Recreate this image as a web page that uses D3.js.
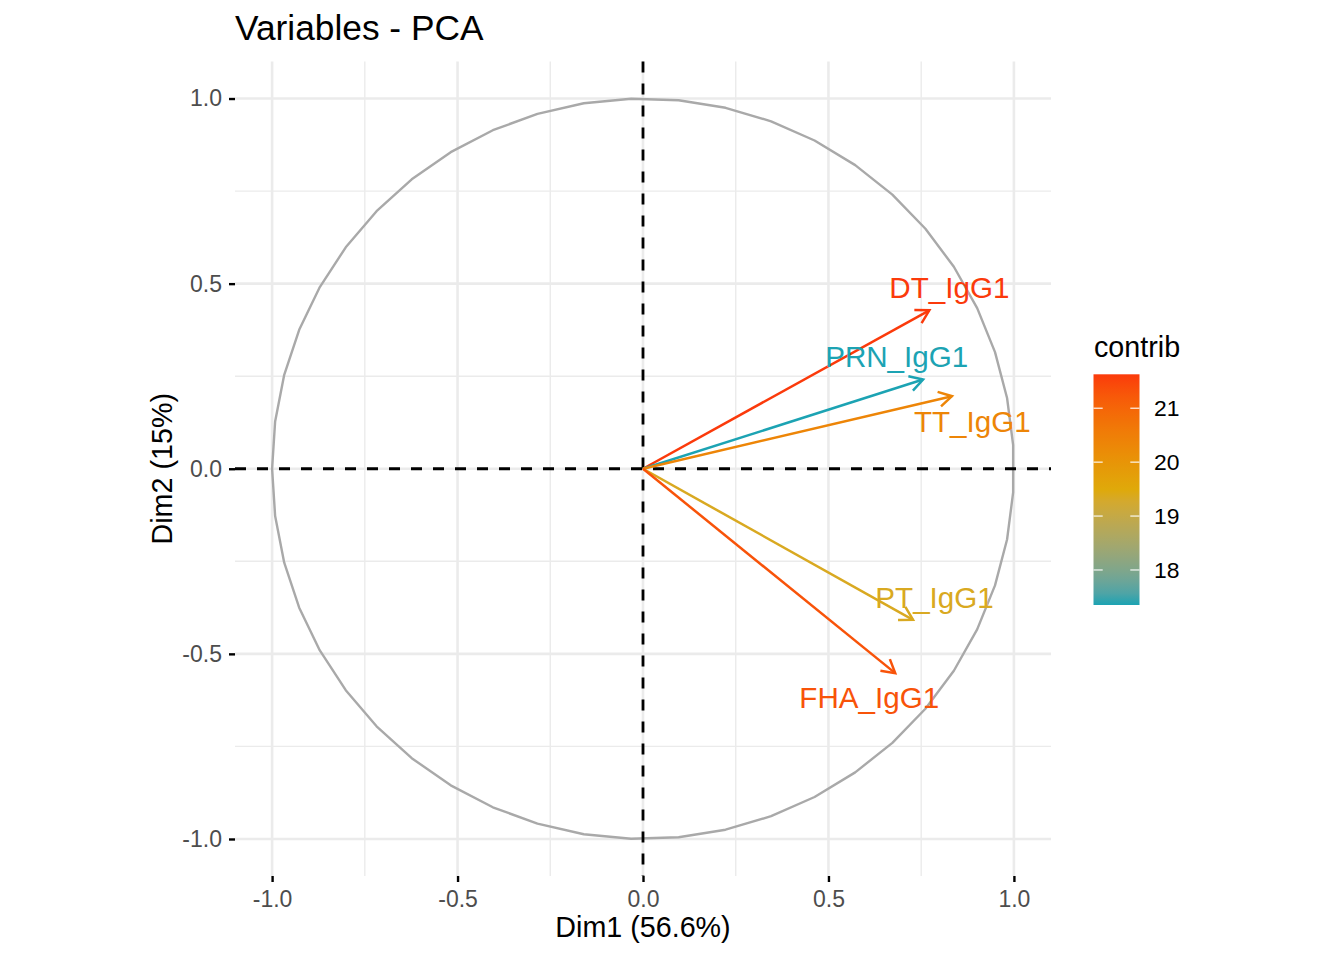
<!DOCTYPE html>
<html>
<head>
<meta charset="utf-8">
<script src="https://cdn.jsdelivr.net/npm/d3@7"></script>
<style>
  html, body { margin: 0; padding: 0; background: #fff; }
  svg { display: block; font-family: "Liberation Sans", Arial, Helvetica, sans-serif; }
</style>
</head>
<body>
<svg id="chart" width="1344" height="960"></svg>
<script>
// ---- data ----
const varNames = ["DT_IgG1", "PRN_IgG1", "TT_IgG1", "PT_IgG1", "FHA_IgG1"];
const dim1 = [0.772, 0.755, 0.833, 0.728, 0.680];
const dim2 = [0.428, 0.241, 0.196, -0.408, -0.552];
const contrib = [21.63, 17.35, 20.35, 19.37, 21.30];
// repelled label positions (data units)
const labelX = [0.826, 0.684, 0.888, 0.786, 0.610];
const labelY = [0.489, 0.303, 0.127, -0.348, -0.618];
const majorBreaks = [-1, -0.5, 0, 0.5, 1];
const minorBreaks = [-0.75, -0.25, 0.25, 0.75];
const tickLabels = ["-1.0", "-0.5", "0.0", "0.5", "1.0"];
const legendBreaks = [18, 19, 20, 21];
const gradientCols = ["#1CA3B3", "#DFA90A", "#FB3A0B"];

const titleText = "Variables - PCA";
const xTitle = "Dim1 (56.6%)";
const yTitle = "Dim2 (15%)";
const legendTitle = "contrib";

// ---- layout ----
const svg = d3.select("#chart");
const panel = { left: 235, right: 1051, top: 61.5, bottom: 876 };
const x = d3.scaleLinear().domain([-1.1, 1.1]).range([panel.left, panel.right]);
const y = d3.scaleLinear().domain([-1.1, 1.1]).range([panel.bottom, panel.top]);

const cMin = d3.min(contrib), cMax = d3.max(contrib);
const color = d3.scaleLinear()
  .domain([cMin, (cMin + cMax) / 2, cMax])
  .range(gradientCols)
  .interpolate(d3.interpolateLab);

// ---- grid ----
const grid = svg.append("g");
grid.selectAll(".vminor").data(minorBreaks).join("line")
  .attr("x1", d => x(d)).attr("x2", d => x(d))
  .attr("y1", panel.top).attr("y2", panel.bottom)
  .attr("stroke", "#EBEBEB").attr("stroke-width", 1.4);
grid.selectAll(".hminor").data(minorBreaks).join("line")
  .attr("y1", d => y(d)).attr("y2", d => y(d))
  .attr("x1", panel.left).attr("x2", panel.right)
  .attr("stroke", "#EBEBEB").attr("stroke-width", 1.4);
grid.selectAll(".vmajor").data(majorBreaks).join("line")
  .attr("x1", d => x(d)).attr("x2", d => x(d))
  .attr("y1", panel.top).attr("y2", panel.bottom)
  .attr("stroke", "#EBEBEB").attr("stroke-width", 2.6);
grid.selectAll(".hmajor").data(majorBreaks).join("line")
  .attr("y1", d => y(d)).attr("y2", d => y(d))
  .attr("x1", panel.left).attr("x2", panel.right)
  .attr("stroke", "#EBEBEB").attr("stroke-width", 2.6);

// ---- correlation circle (unit circle as a 50-vertex polygon) ----
const theta = d3.range(50).map(k => -Math.PI + k * 2 * Math.PI / 49);
const circleLine = d3.line().x(t => x(Math.cos(t))).y(t => y(Math.sin(t)));
svg.append("path").attr("d", circleLine(theta))
  .attr("fill", "none").attr("stroke", "#A9A9A9").attr("stroke-width", 2.4)
  .attr("stroke-linejoin", "round");

// ---- dashed reference lines ----
svg.append("line").attr("x1", panel.left).attr("x2", panel.right)
  .attr("y1", y(0)).attr("y2", y(0))
  .attr("stroke", "#000").attr("stroke-width", 2.8).attr("stroke-dasharray", "11,11");
svg.append("line").attr("y1", panel.top).attr("y2", panel.bottom)
  .attr("x1", x(0)).attr("x2", x(0))
  .attr("stroke", "#000").attr("stroke-width", 2.8).attr("stroke-dasharray", "11,11");

// ---- axes ----
const fmtIdx = d => tickLabels[majorBreaks.indexOf(d)];
const yAxis = svg.append("g").attr("transform", `translate(${panel.left},0)`)
  .call(d3.axisLeft(y).tickValues(majorBreaks).tickFormat(fmtIdx).tickSize(6).tickPadding(7));
const xAxis = svg.append("g").attr("transform", `translate(0,${panel.bottom})`)
  .call(d3.axisBottom(x).tickValues(majorBreaks).tickFormat(fmtIdx).tickSize(6).tickPadding(9));
[xAxis, yAxis].forEach(a => {
  a.select(".domain").remove();
  a.selectAll(".tick line").attr("stroke", "#000").attr("stroke-width", 2.4);
  a.selectAll(".tick text").attr("fill", "#4D4D4D").attr("font-size", 23)
    .attr("font-family", "Liberation Sans, Arial, sans-serif");
});

// ---- arrows ----
const idx = d3.range(varNames.length);
const arrows = svg.append("g");
const headLen = 15, headAng = Math.PI / 6;
idx.forEach(i => {
  const x0 = x(0), y0 = y(0), x1 = x(dim1[i]), y1 = y(dim2[i]);
  const c = color(contrib[i]);
  const a = Math.atan2(y1 - y0, x1 - x0);
  arrows.append("line").attr("x1", x0).attr("y1", y0).attr("x2", x1).attr("y2", y1)
    .attr("stroke", c).attr("stroke-width", 2.5);
  const p1 = [x1 - headLen * Math.cos(a - headAng), y1 - headLen * Math.sin(a - headAng)];
  const p2 = [x1 - headLen * Math.cos(a + headAng), y1 - headLen * Math.sin(a + headAng)];
  arrows.append("path")
    .attr("d", `M${p1[0]},${p1[1]}L${x1},${y1}L${p2[0]},${p2[1]}`)
    .attr("fill", "none").attr("stroke", c).attr("stroke-width", 2.5)
    .attr("stroke-linejoin", "miter");
});

// ---- labels ----
svg.append("g").selectAll("text").data(idx).join("text")
  .attr("x", i => x(labelX[i])).attr("y", i => y(labelY[i]))
  .attr("dy", "0.35em").attr("text-anchor", "middle")
  .attr("font-size", 29.6).attr("fill", i => color(contrib[i]))
  .text(i => varNames[i]);

// ---- titles ----
svg.append("text").attr("x", 235).attr("y", 40).attr("font-size", 35.3)
  .attr("fill", "#000").text(titleText);
svg.append("text").attr("x", (panel.left + panel.right) / 2).attr("y", 937)
  .attr("text-anchor", "middle").attr("font-size", 28.7).attr("fill", "#000").text(xTitle);
svg.append("text").attr("transform", `translate(172,${(panel.top + panel.bottom) / 2}) rotate(-90)`)
  .attr("text-anchor", "middle").attr("font-size", 28.7).attr("fill", "#000").text(yTitle);

// ---- colour legend ----
const leg = { x: 1093.5, w: 46, top: 374.3, bottom: 605 };
const ly = d3.scaleLinear().domain([cMin, cMax]).range([leg.bottom, leg.top]);
const defs = svg.append("defs");
const grad = defs.append("linearGradient").attr("id", "cgrad")
  .attr("x1", 0).attr("y1", 1).attr("x2", 0).attr("y2", 0);
d3.range(21).forEach(k => {
  const v = cMin + (cMax - cMin) * k / 20;
  grad.append("stop").attr("offset", (k / 20)).attr("stop-color", color(v));
});
svg.append("rect").attr("x", leg.x).attr("y", leg.top).attr("width", leg.w)
  .attr("height", leg.bottom - leg.top).attr("fill", "url(#cgrad)");
const lt = svg.append("g");
legendBreaks.forEach(b => {
  lt.append("line").attr("x1", leg.x).attr("x2", leg.x + leg.w / 5)
    .attr("y1", ly(b)).attr("y2", ly(b)).attr("stroke", "#fff").attr("stroke-opacity", 0.8).attr("stroke-width", 1.4);
  lt.append("line").attr("x1", leg.x + leg.w - leg.w / 5).attr("x2", leg.x + leg.w)
    .attr("y1", ly(b)).attr("y2", ly(b)).attr("stroke", "#fff").attr("stroke-opacity", 0.8).attr("stroke-width", 1.4);
  lt.append("text").attr("x", 1154).attr("y", ly(b)).attr("dy", "0.35em")
    .attr("font-size", 22.9).attr("fill", "#000").text(String(b));
});
svg.append("text").attr("x", 1094).attr("y", 357).attr("font-size", 28.7)
  .attr("fill", "#000").text(legendTitle);
</script>
</body>
</html>
